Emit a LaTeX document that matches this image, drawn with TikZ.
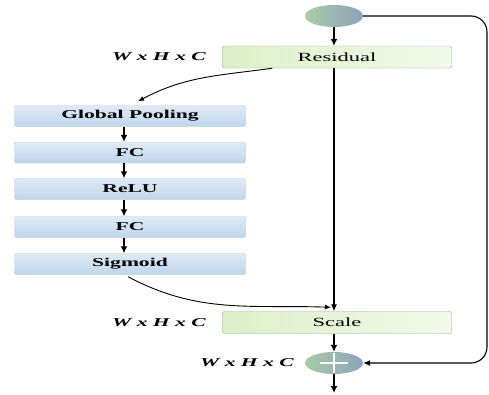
\documentclass[tikz,border=0pt]{standalone}
\usepackage{fontspec}
\setmainfont{Liberation Serif}
\usepackage{graphicx}
\usetikzlibrary{arrows.meta,shapes.geometric,calc}
\definecolor{bluetop}{HTML}{DFEBF6}
\definecolor{bluebot}{HTML}{C0D5EA}
\definecolor{blueedge}{HTML}{B4C8DC}
\definecolor{greenL}{HTML}{DDF0C8}
\definecolor{greenR}{HTML}{F2F9EA}
\definecolor{greenedge}{HTML}{98A898}
\definecolor{ellB}{HTML}{8CA3BE}
\definecolor{ellG}{HTML}{A9CBA3}
\newcommand{\wide}[1]{\scalebox{1.8}[1]{#1}}
\begin{document}
\begin{tikzpicture}[x=1pt,y=-1pt,
 bluebox/.style={draw=blueedge, top color=bluetop, bottom color=bluebot, rounded corners=2pt, minimum width=231pt, minimum height=21pt, inner sep=0pt, font=\fontsize{12}{14}\selectfont\bfseries},
 greenbox/.style={draw=greenedge, left color=greenL, right color=greenR, rounded corners=2pt, minimum width=229pt, minimum height=22pt, inner sep=0pt, font=\fontsize{12.5}{14}\selectfont},
 oval/.style={ellipse, left color=ellG, right color=ellB, minimum width=58pt, minimum height=22pt, inner sep=0pt},
 dimlabel/.style={font=\fontsize{12}{14}\selectfont\bfseries\itshape, anchor=east, inner sep=0pt},
 shortarrow/.style={-{Latex[length=7pt,width=7pt]}, line width=1.5pt},
 longarrow/.style={-{Latex[length=7pt,width=6pt]}, line width=1.1pt},
 curvearrow/.style={-{Latex[length=6pt,width=5pt]}, line width=0.9pt},
]
\useasboundingbox (0,0) rectangle (489,394);
\node[oval] (inp) at (334,16) {};
\node[greenbox] (res) at (337,57) {\wide{Residual}};
\node[dimlabel] (l1) at (206,57) {\wide{W x H x C}};
\node[bluebox] (gp) at (130,116) {\wide{Global Pooling}};
\node[bluebox] (fc1) at (130,152.5) {\wide{FC}};
\node[bluebox] (relu) at (130,189) {\wide{ReLU}};
\node[bluebox] (fc2) at (130,227) {\wide{FC}};
\node[bluebox] (sig) at (130,264) {\wide{Sigmoid}};
\node[greenbox] (scale) at (337,322.5) {\wide{Scale}};
\node[dimlabel] (l2) at (206,322.5) {\wide{W x H x C}};
\node[oval] (plus) at (334,363) {};
\node[dimlabel] (l3) at (294,363) {\wide{W x H x C}};
\coordinate (out) at (334,393);
\draw[white, line width=2.5pt] ($(plus.center)+(-14,0)$) -- ($(plus.center)+(14,0)$);
\draw[white, line width=2.5pt] ($(plus.center)+(0,-10)$) -- ($(plus.center)+(0,10)$);
\draw[shortarrow] (inp.south) -- (inp.south |- res.north);
\draw[longarrow] (inp.south |- res.south) -- (inp.south |- scale.north);
\draw[shortarrow] (plus.north |- scale.south) -- (plus.north);
\draw[shortarrow] (plus.south) -- (out);
\foreach \a/\b in {gp/fc1, fc1/relu, relu/fc2, fc2/sig}
  \draw[shortarrow] ($(\a.south)+(-6,0)$) -- ($(\b.north)+(-6,0)$);
\draw[curvearrow] ($(res.south west)+(50,0)$) to[out=188,in=28] ($(gp.north)+(8,-4)$);
\draw[curvearrow] ($(sig.south)+(-2,2)$) to[out=-28,in=178] ($(inp.south |- scale.north)+(-3,-4)$);
\draw[longarrow, rounded corners=16pt] (inp.east) -- (487,16) |- (plus.east);
\end{tikzpicture}
\end{document}
